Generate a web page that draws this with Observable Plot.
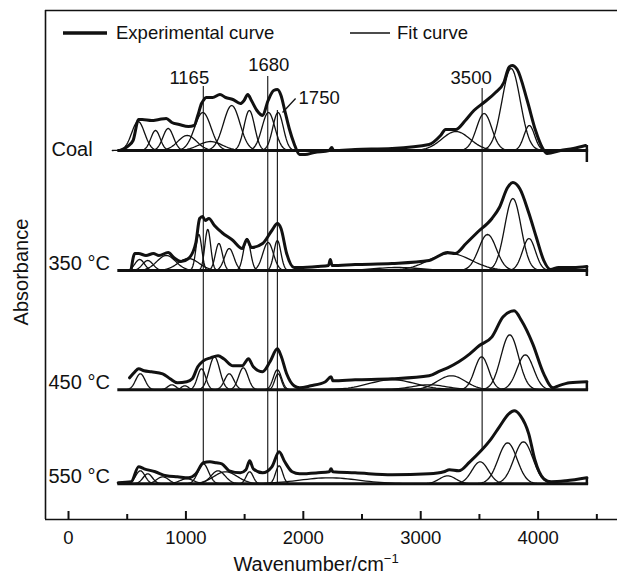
<!DOCTYPE html>
<html><head><meta charset="utf-8">
<script src="https://cdn.jsdelivr.net/npm/d3@7"></script>
<script src="https://cdn.jsdelivr.net/npm/@observablehq/plot@0.6"></script>
<style>body{margin:0;background:#fff;} svg{display:block;}</style>
</head><body><div id="chart"></div>
<script>
// ---- data ----
const samples = ["Coal", "350 °C", "450 °C", "550 °C"];
// vertical stacking offsets (absorbance units)
const offsets = [3.69, 2.49, 1.297, 0.357];
const baseRange = [420, 4430];
// right-end marks of each trace [top, bottom] relative to its baseline
const endMarks = [[0.05, -0.12], [0.04, -0.06], [0.08, 0], [0.06, -0.01]];
const endWn = 4415;

// experimental curves: [wavenumber, absorbance]
const coalExp = [[439,0],[502,0.04],[550,0.10],[597,0.31],[628,0.31],[707,0.30],[770,0.31],[833,0.32],[880,0.28],[943,0.26],[1022,0.24],[1070,0.25],[1101,0.35],[1133,0.47],[1148,0.50],[1174,0.53],[1227,0.53],[1290,0.56],[1338,0.53],[1400,0.51],[1464,0.47],[1495,0.50],[1527,0.56],[1558,0.50],[1605,0.40],[1653,0.35],[1700,0.50],[1747,0.60],[1779,0.61],[1810,0.55],[1842,0.40],[1880,0.22],[1921,0.07],[1968,-0.04],[2015,-0.04],[2094,-0.02],[2220,0],[2242,0.03],[2258,0],[2441,0.01],[2756,0.02],[3071,0.06],[3169,0.15],[3212,0.21],[3297,0.21],[3380,0.30],[3453,0.40],[3538,0.48],[3637,0.58],[3708,0.68],[3751,0.83],[3779,0.85],[3822,0.81],[3907,0.50],[3978,0.20],[4035,0.03],[4077,-0.03],[4191,0],[4300,0.02],[4404,0.05]];
const exp350 = [[534,0.01],[565,0.17],[597,0.17],[660,0.15],[723,0.17],[770,0.15],[849,0.18],[896,0.13],[959,0.09],[1022,0.12],[1085,0.28],[1117,0.52],[1142,0.54],[1164,0.50],[1196,0.52],[1243,0.45],[1306,0.38],[1401,0.30],[1479,0.22],[1520,0.31],[1558,0.23],[1653,0.27],[1732,0.40],[1779,0.47],[1810,0.42],[1858,0.17],[1921,0.03],[1968,0.03],[2125,0.04],[2214,0.05],[2230,0.11],[2245,0.05],[2441,0.06],[2756,0.07],[3071,0.10],[3229,0.18],[3292,0.17],[3386,0.27],[3481,0.38],[3607,0.52],[3670,0.63],[3740,0.83],[3785,0.88],[3843,0.82],[3922,0.57],[3985,0.33],[4048,0.10],[4105,0.01],[4174,0.03],[4300,0.03],[4415,0.04]];
const exp450 = [[520,0.12],[565,0.18],[597,0.21],[644,0.19],[707,0.18],[802,0.16],[865,0.11],[928,0.07],[1007,0.08],[1054,0.11],[1101,0.23],[1148,0.29],[1211,0.32],[1274,0.34],[1322,0.31],[1401,0.24],[1479,0.24],[1533,0.31],[1574,0.23],[1653,0.18],[1716,0.28],[1779,0.41],[1810,0.34],[1858,0.16],[1921,0.04],[1968,0.02],[2063,0.04],[2188,0.08],[2236,0.13],[2252,0.09],[2441,0.10],[2756,0.11],[3071,0.14],[3166,0.19],[3229,0.22],[3324,0.28],[3418,0.36],[3497,0.44],[3607,0.53],[3702,0.73],[3796,0.79],[3859,0.69],[3954,0.46],[4048,0.16],[4127,0.02],[4174,0.04],[4269,0.07],[4415,0.08]];
const exp550 = [[423,0.01],[534,0.02],[597,0.17],[644,0.15],[739,0.12],[833,0.08],[928,0.07],[1022,0.06],[1085,0.10],[1148,0.21],[1205,0.22],[1259,0.21],[1306,0.20],[1369,0.13],[1464,0.11],[1511,0.14],[1543,0.23],[1574,0.15],[1653,0.11],[1732,0.17],[1794,0.32],[1842,0.22],[1905,0.12],[1968,0.10],[2125,0.11],[2220,0.12],[2236,0.15],[2252,0.12],[2441,0.11],[2756,0.09],[3071,0.10],[3197,0.12],[3245,0.14],[3324,0.13],[3418,0.22],[3513,0.33],[3600,0.45],[3670,0.57],[3750,0.70],[3796,0.73],[3850,0.68],[3920,0.50],[3970,0.25],[4049,0.05],[4111,0.02],[4237,0.03],[4415,0.06]];

// fitted Gaussian bands: [centre, height, sigma]
const coalFit = [[593,0.29,55],[741,0.20,40],[849,0.22,45],[1011,0.15,80],[1209,0.09,100],[1144,0.38,70],[1390,0.45,70],[1540,0.40,45],[1703,0.38,55],[1785,0.38,45],[3300,0.19,120],[3540,0.37,65],[3770,0.82,78],[3925,0.25,45]];
const fit350 = [[606,0.11,40],[675,0.10,45],[833,0.15,80],[1022,0.12,90],[1110,0.36,25],[1186,0.41,25],[1281,0.27,30],[1369,0.22,40],[1520,0.32,30],[1700,0.28,45],[1779,0.30,30],[2800,0.03,200],[3250,0.17,180],[3569,0.36,75],[3785,0.72,70],[3922,0.32,55]];
const fit450 = [[612,0.16,40],[880,0.05,35],[991,0.04,30],[1133,0.21,35],[1243,0.33,45],[1369,0.16,40],[1489,0.22,40],[1779,0.20,35],[1785,0.16,28],[2756,0.10,200],[3071,0.05,150],[3261,0.14,120],[3519,0.33,60],[3758,0.55,75],[3891,0.35,70]];
const fit550 = [[612,0.13,40],[675,0.10,40],[802,0.07,50],[1007,0.05,60],[1148,0.20,45],[1274,0.13,60],[1338,0.12,100],[1543,0.12,30],[1794,0.18,30],[2220,0.06,250],[3229,0.08,70],[3506,0.22,70],[3740,0.41,80],[3875,0.42,80]];

// marked bands
const markerWn = [1148, 1697, 1779, 3523];
const markerLabel = ["1165", "1680", "1750", "3500"];
const markerTop = [4.33, 4.43, 4.09, 4.31];
const markerBottom = [0.57, 0.36, 0.36, 0.68];

// axis ticks
const majorTicks = [0, 1000, 2000, 3000, 4000];
const minorTicks = [500, 1500, 2500, 3500, 4500];
const xDomain = [-196, 4676];
const yDomain = [0, 5.09];

// ---- build tables ----
const expData = [coalExp, exp350, exp450, exp550];
const fitData = [coalFit, fit350, fit450, fit550];
const expRows = samples.flatMap((s, i) => expData[i].map(([w, a]) => ({sample: s, wn: w, y: a + offsets[i]})));
const fitRows = [];
fitData.forEach((list, i) => list.forEach(([c, h, sg], k) => {
  for (let t = -4; t <= 4.0001; t += 0.125) {
    fitRows.push({id: i + "-" + k, wn: c + t * sg, y: offsets[i] + h * Math.exp(-t * t / 2)});
  }
}));
const markers = markerWn.map((w, i) => ({wn: w, label: markerLabel[i], top: markerTop[i], bottom: markerBottom[i]}));
const sampleRows = samples.map((s, i) => ({sample: s, y: offsets[i], i}));
const ends = endMarks.map((e, i) => ({y1: offsets[i] + e[0], y2: offsets[i] + e[1]}));
const labelOffsets = {"1165": [-14, -8], "1680": [1, -11], "3500": [-11, -10]};
const topLabels = markers.filter(d => labelOffsets[d.label]);
const leader = markers.filter(d => d.label === "1750").map(d => ({x1: d.wn + 44, y1: d.top - 0.02, x2: d.wn + 155, y2: d.top + 0.12, label: d.label}));

const font = "'Liberation Sans', Arial, Helvetica, sans-serif";
const ink = "#111";

const chart = Plot.plot({
  width: 617, height: 575,
  marginTop: 10, marginBottom: 56, marginLeft: 45, marginRight: 0,
  x: {domain: xDomain, axis: null},
  y: {domain: yDomain, axis: null},
  style: {fontFamily: font, color: ink, background: "#fff"},
  marks: [
    Plot.ruleY([yDomain[1]], {stroke: ink, strokeWidth: 1.6}),
    Plot.ruleX([xDomain[0]], {stroke: ink, strokeWidth: 1.6}),
    Plot.ruleY([0], {stroke: ink, strokeWidth: 1.6}),
    Plot.ruleX(majorTicks, {x: d => d, y1: 0, y2: 0.08, stroke: ink, strokeWidth: 2}),
    Plot.ruleX(minorTicks, {x: d => d, y1: 0, y2: 0.05, stroke: ink, strokeWidth: 2}),
    Plot.text(majorTicks, {x: d => d, y: () => 0, dy: 19, text: d => String(d), fontSize: 18.5, fill: ink}),
    Plot.ruleY(offsets, {y: d => d, x1: () => baseRange[0], x2: () => baseRange[1], stroke: ink, strokeWidth: 3}),
    Plot.ruleX(ends, {x: () => endWn, y1: "y1", y2: "y2", stroke: ink, strokeWidth: 2.5}),
    Plot.line(fitRows, {x: "wn", y: "y", z: "id", stroke: ink, strokeWidth: 1.3, curve: "linear"}),
    Plot.line(expRows, {x: "wn", y: "y", z: "sample", stroke: ink, strokeWidth: 3, curve: "monotone-x", strokeLinejoin: "round"}),
    Plot.ruleX(markers, {x: "wn", y1: "bottom", y2: "top", stroke: ink, strokeWidth: 1.1}),
    Plot.text(topLabels, {x: "wn", y: "top", text: "label", fontSize: 18.5, fill: ink,
      render: (index, scales, values, dims, ctx, next) => {
        const g = next(index, scales, values, dims, ctx);
        d3.select(g).selectAll("text").each(function(_, j) {
          const d = topLabels[index[j]];
          const [ox, oy] = labelOffsets[d.label];
          d3.select(this).attr("transform", `translate(${values.x[index[j]] + ox},${values.y[index[j]] + oy})`);
        });
        return g;
      }}),
    Plot.link(leader, {x1: "x1", y1: "y1", x2: "x2", y2: "y2", stroke: ink, strokeWidth: 1.3}),
    Plot.text(leader, {x: "x2", y: "y2", text: "label", dx: 3, dy: 0, textAnchor: "start", fontSize: 18.5, fill: ink}),
    Plot.text(sampleRows.filter(d => d.i === 0), {frameAnchor: "left", y: "y", text: "sample", dx: 6, dy: -1, textAnchor: "start", fontSize: 20, fill: ink}),
    Plot.text(sampleRows.filter(d => d.i > 0), {frameAnchor: "left", y: "y", text: "sample", dx: 3, dy: -7, textAnchor: "start", fontSize: 20, fill: ink})
  ]
});

const svg = d3.select(chart);
// legend (inside the frame)
const lg = svg.append("g").attr("font-family", font).attr("font-size", 18.5).attr("fill", ink).attr("text-anchor", "start");
lg.append("line").attr("x1", 63).attr("x2", 107).attr("y1", 33).attr("y2", 33).attr("stroke", ink).attr("stroke-width", 3.5);
lg.append("text").attr("x", 116).attr("y", 33).attr("dy", "0.35em").attr("text-anchor", "start").text("Experimental curve");
lg.append("line").attr("x1", 350).attr("x2", 390).attr("y1", 33).attr("y2", 33).attr("stroke", ink).attr("stroke-width", 1.3);
lg.append("text").attr("x", 397).attr("y", 33).attr("dy", "0.35em").attr("text-anchor", "start").text("Fit curve");
// axis titles
const xt = svg.append("text").attr("x", 316).attr("y", 571).attr("text-anchor", "middle")
  .attr("font-family", font).attr("font-size", 20).attr("fill", ink);
xt.append("tspan").text("Wavenumber/cm");
xt.append("tspan").attr("dy", -8).attr("font-size", 13).text("−1");
svg.append("text").attr("transform", "translate(21,272) rotate(-90)").attr("text-anchor", "middle")
  .attr("dy", "0.35em").attr("font-family", font).attr("font-size", 20).attr("fill", ink).text("Absorbance");

document.getElementById("chart").appendChild(chart);
</script>
</body></html>
